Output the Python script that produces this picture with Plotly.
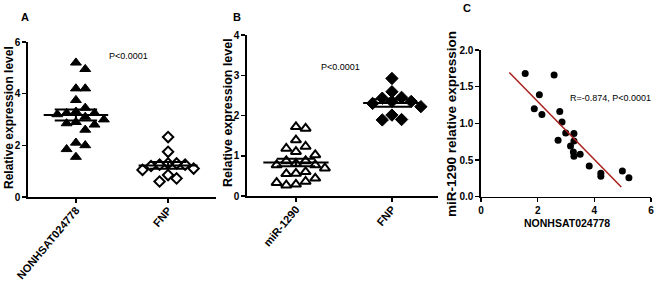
import numpy as np
import plotly.graph_objects as go

# ---------------- data ----------------
a_categories = ["NONHSAT024778", "FNP"]
a_nonhsat = [5.20, 4.95, 4.20, 4.20, 3.75, 3.45, 3.30, 3.25, 3.20, 3.25,
             3.10, 3.00, 2.90, 2.85, 2.80, 2.60, 2.10, 2.00, 1.85, 1.55]
a_fnp = [2.32, 1.75, 1.30, 1.25, 1.25, 1.20, 1.30, 1.05, 1.10, 0.85, 0.60, 0.72]

b_categories = ["miR-1290", "FNP"]
b_mir = [1.68, 1.72, 1.39, 1.18, 1.23, 1.10, 1.02, 0.87, 0.87, 0.77, 0.81,
         0.77, 0.60, 0.69, 0.55, 0.56, 0.44, 0.33, 0.27, 0.29, 0.36]
b_fnp = [2.92, 2.59, 2.43, 2.45, 2.35, 2.30, 2.35, 2.22, 2.01, 1.89, 1.90]

c_nonhsat = [1.56, 2.58, 2.06, 1.88, 2.15, 2.78, 2.86, 2.99, 3.28, 3.28,
             2.72, 3.16, 3.26, 3.28, 3.50, 3.82, 4.23, 4.23, 4.99, 5.22]
c_mir = [1.68, 1.66, 1.39, 1.20, 1.12, 1.16, 1.02, 0.87, 0.86, 0.76,
         0.77, 0.69, 0.61, 0.55, 0.58, 0.42, 0.32, 0.28, 0.35, 0.26]

a_yticks = [0, 2, 4, 6]
b_yticks = [0, 1, 2, 3, 4]
c_xticks = [0, 2, 4, 6]
c_yticks = [0.0, 0.5, 1.0, 1.5, 2.0]
c_ytext = ["0.0", "0.5", "1.0", "1.5", "2.0"]
p_text = "P<0.0001"
r_text = "R=-0.874, P<0.0001"

# ---------------- geometry ----------------
W, H = 658, 285
FONT = "Liberation Sans, Arial, sans-serif"


def px(x):
    return x / W


def py(y):
    return 1 - y / H


def swarm(values, ppx, ppy, diam):
    vals = np.asarray(values, dtype=float)
    order = np.argsort(-vals)
    placed = []
    offs = np.zeros(len(vals))
    cands = [0]
    for n in range(1, 40):
        cands += [n, -n]
    for i in order:
        yp = vals[i] * ppy
        for c in cands:
            xp = c * diam
            if all((xp - qx) ** 2 + (yp - qy) ** 2 >= (diam * 0.97) ** 2 for qx, qy in placed):
                break
        placed.append((xp, yp))
        offs[i] = xp / ppx
    return offs


def mean_sem(values):
    v = np.asarray(values, dtype=float)
    return v.mean(), v.std(ddof=1) / np.sqrt(len(v))


fig = go.Figure()
BLACK = "black"


def add_group(values, center, ppx, ppy, diam, symbol, size, lw, xa, ya, mean_hw, sem_hw):
    offs = swarm(values, ppx, ppy, diam)
    fig.add_trace(go.Scatter(
        x=center + offs, y=values, mode="markers", xaxis=xa, yaxis=ya,
        marker=dict(symbol=symbol, size=size, color=BLACK,
                    line=dict(color=BLACK, width=lw)),
        showlegend=False, hoverinfo="y", cliponaxis=False))
    m, s = mean_sem(values)
    xs = [center - mean_hw, center + mean_hw, None,
          center - sem_hw, center + sem_hw, None,
          center - sem_hw, center + sem_hw, None,
          center, center]
    ys = [m, m, None, m + s, m + s, None, m - s, m - s, None, m - s, m + s]
    fig.add_trace(go.Scatter(x=xs, y=ys, mode="lines", xaxis=xa, yaxis=ya,
                             line=dict(color=BLACK, width=2),
                             showlegend=False, hoverinfo="skip"))


# Panel A
add_group(a_nonhsat, 0, 92, 25.8, 9.3, "triangle-up", 9.5, 1, "x", "y", 0.35, 0.23)
add_group(a_fnp, 1, 92, 25.8, 8.5, "diamond-open", 8, 2, "x", "y", 0.32, 0.2)
# Panel B
add_group(b_mir, 0, 95.5, 40.25, 9.6, "triangle-up-open", 9, 2, "x2", "y2", 0.34, 0.2)
add_group(b_fnp, 1, 95.5, 40.25, 9.6, "diamond", 9.5, 1, "x2", "y2", 0.3, 0.2)

# Panel C scatter + regression
fig.add_trace(go.Scatter(x=c_nonhsat, y=c_mir, mode="markers", xaxis="x3", yaxis="y3",
                         marker=dict(symbol="circle", size=7, color=BLACK),
                         showlegend=False))
slope, intercept = np.polyfit(c_nonhsat, c_mir, 1)
line_x = np.array([1.0, 4.95])
fig.add_trace(go.Scatter(x=line_x, y=slope * line_x + intercept, mode="lines",
                         xaxis="x3", yaxis="y3",
                         line=dict(color="#a8201a", width=1.5),
                         showlegend=False, hoverinfo="skip"))

tickfont = dict(family=FONT, size=10, color=BLACK, weight="bold")
catfont = dict(family=FONT, size=11, color=BLACK, weight="bold")
common = dict(showline=True, linecolor=BLACK, linewidth=1.6, ticks="outside",
              ticklen=4, tickwidth=1.5, tickcolor=BLACK, showgrid=False,
              zeroline=False, automargin=False)

fig.update_layout(
    template="none",
    width=W, height=H, margin=dict(l=0, r=0, t=0, b=0, autoexpand=False),
    paper_bgcolor="white", plot_bgcolor="white",
    xaxis=dict(domain=[px(28), px(216)], range=[-0.52, 1.52], anchor="y",
               tickvals=[0, 1], ticktext=a_categories, tickangle=-50,
               tickfont=catfont, ticklabelstandoff=-3, **common),
    yaxis=dict(domain=[py(197), py(42)], range=[0, 6], anchor="x",
               tickvals=a_yticks, tickfont=tickfont, **common),
    xaxis2=dict(domain=[px(247), px(438)], range=[-0.51, 1.48], anchor="y2",
                tickvals=[0, 1], ticktext=b_categories, tickangle=-50,
                tickfont=catfont, ticklabelstandoff=-3, **common),
    yaxis2=dict(domain=[py(196), py(35)], range=[0, 4], anchor="x2",
                tickvals=b_yticks, tickfont=tickfont, **common),
    xaxis3=dict(domain=[px(481), px(651)], range=[0, 6], anchor="y3",
                tickvals=c_xticks, tickfont=tickfont, **common),
    yaxis3=dict(domain=[py(196.7), py(50)], range=[0, 2], anchor="x3",
                tickvals=c_yticks, ticktext=c_ytext, tickfont=tickfont, **common),
)

ann = []


def text(x, y, t, size, bold=False, angle=0):
    ann.append(dict(x=px(x), y=py(y), xref="paper", yref="paper", text=t,
                    showarrow=False, textangle=angle, xanchor="center", yanchor="middle",
                    font=dict(family=FONT, size=size, color=BLACK,
                              weight="bold" if bold else "normal")))


text(25, 17, "A", 11, True)
text(237, 17, "B", 11, True)
text(467, 8, "C", 11, True)
text(9, 118, "Relative expression level", 12, True, -90)
text(228, 113, "Relative expression level", 12.5, True, -90)
text(451, 124, "miR-1290 relative expression", 13.5, True, -90)
text(567, 223, "NONHSAT024778", 10.5, True)
text(128, 56, p_text, 9)
text(340, 67, p_text, 9)
text(610, 98, r_text, 9)
fig.update_layout(annotations=ann)

fig.write_html("out.html", config={"displayModeBar": False, "staticPlot": True},
               post_script="document.body.style.margin='0';document.body.style.padding='0';")
